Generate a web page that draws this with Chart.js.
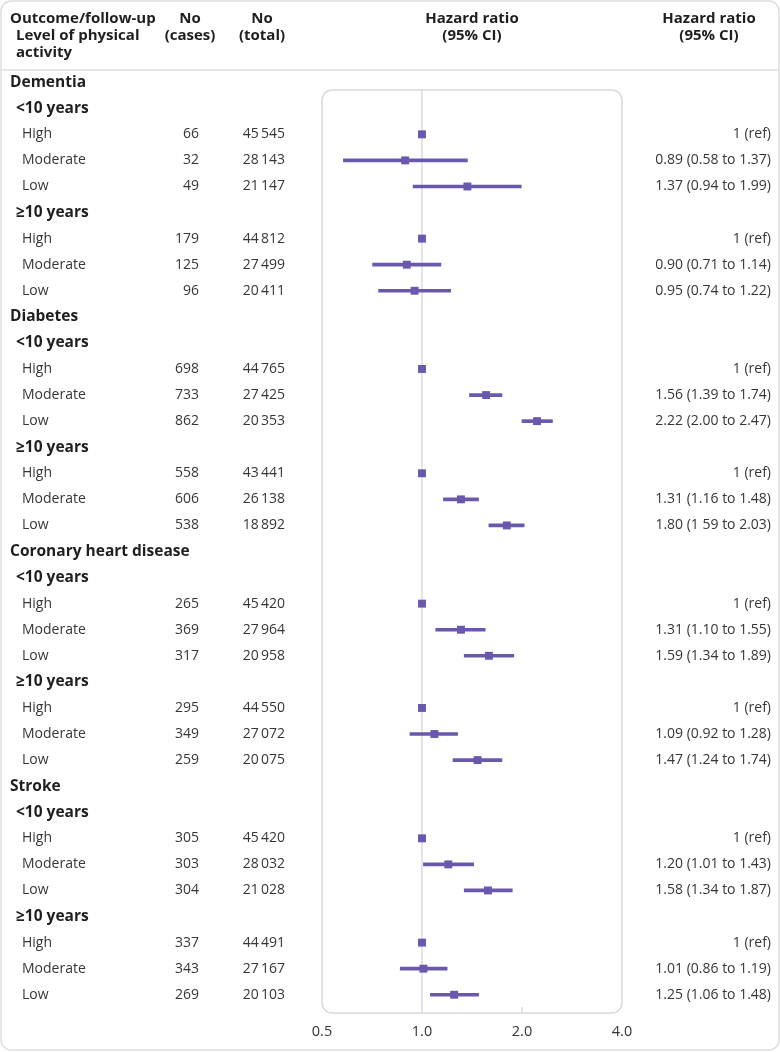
<!DOCTYPE html>
<html>
<head>
<meta charset="utf-8">
<script src="https://cdn.jsdelivr.net/npm/chart.js@4.4.1/dist/chart.umd.min.js"></script>
<style>
html,body{margin:0;padding:0;background:#fff;overflow:hidden;}
#wrap{position:relative;width:780px;height:1052px;}
</style>
</head>
<body>
<div id="wrap"><canvas id="c"></canvas></div>
<script>
// ---- data ----
const outcomes = ['Dementia', 'Diabetes', 'Coronary heart disease', 'Stroke'];
const periods = ['<10 years', '≥10 years'];
const levels = ['High', 'Moderate', 'Low'];
const cases = [66, 32, 49, 179, 125, 96, 698, 733, 862, 558, 606, 538, 265, 369, 317, 295, 349, 259, 305, 303, 304, 337, 343, 269];
const totals = [45545, 28143, 21147, 44812, 27499, 20411, 44765, 27425, 20353, 43441, 26138, 18892, 45420, 27964, 20958, 44550, 27072, 20075, 45420, 28032, 21028, 44491, 27167, 20103];
const hr = [1, 0.89, 1.37, 1, 0.90, 0.95, 1, 1.56, 2.22, 1, 1.31, 1.80, 1, 1.31, 1.59, 1, 1.09, 1.47, 1, 1.20, 1.58, 1, 1.01, 1.25];
const ciLow = [null, 0.58, 0.94, null, 0.71, 0.74, null, 1.39, 2.00, null, 1.16, 1.59, null, 1.10, 1.34, null, 0.92, 1.24, null, 1.01, 1.34, null, 0.86, 1.06];
const ciHigh = [null, 1.37, 1.99, null, 1.14, 1.22, null, 1.74, 2.47, null, 1.48, 2.03, null, 1.55, 1.89, null, 1.28, 1.74, null, 1.43, 1.87, null, 1.19, 1.48];
const hrLabels = ['1 (ref)', '0.89 (0.58 to 1.37)', '1.37 (0.94 to 1.99)', '1 (ref)', '0.90 (0.71 to 1.14)', '0.95 (0.74 to 1.22)',
  '1 (ref)', '1.56 (1.39 to 1.74)', '2.22 (2.00 to 2.47)', '1 (ref)', '1.31 (1.16 to 1.48)', '1.80 (1 59 to 2.03)',
  '1 (ref)', '1.31 (1.10 to 1.55)', '1.59 (1.34 to 1.89)', '1 (ref)', '1.09 (0.92 to 1.28)', '1.47 (1.24 to 1.74)',
  '1 (ref)', '1.20 (1.01 to 1.43)', '1.58 (1.34 to 1.87)', '1 (ref)', '1.01 (0.86 to 1.19)', '1.25 (1.06 to 1.48)'];
const xTicks = [0.5, 1, 2, 4];

// ---- build rows ----
const rows = [];
let k = 0;
outcomes.forEach(o => {
  rows.push({ kind: 0, text: o });
  periods.forEach(p => {
    rows.push({ kind: 1, text: p });
    levels.forEach(l => { rows.push({ kind: 2, text: l, k: k }); k++; });
  });
});

const ciData = [], ptData = [];
rows.forEach((r, i) => {
  if (r.kind !== 2) return;
  ptData.push({ x: hr[r.k], y: i });
  if (ciLow[r.k] !== null) ciData.push({ x: [ciLow[r.k], ciHigh[r.k]], y: i });
});

const fmt = n => n.toString().replace(/\B(?=(\d{3})+(?!\d))/g, '\u2009');

const FONT = '"Open Sans"';
const REG = '14px ' + FONT;
const BOLD = 'bold 15.5px ' + FONT;
const HBOLD = 'bold 15px ' + FONT;
const PURPLE = '#6a58ad';
const TXT = '#363636';
const HEAD = '#1e1e1e';

const decor = {
  id: 'decor',
  beforeDraw(chart) {
    const ctx = chart.ctx, a = chart.chartArea, xs = chart.scales.x;
    ctx.save();
    // card
    ctx.strokeStyle = '#dedee2';
    ctx.lineWidth = 1.5;
    ctx.beginPath();
    ctx.roundRect(1, 1, 778, 1049, 10);
    ctx.stroke();
    // header separator
    ctx.beginPath();
    ctx.moveTo(1, 70); ctx.lineTo(779, 70);
    ctx.stroke();
    // plot box
    ctx.strokeStyle = '#d9d9de';
    ctx.beginPath();
    ctx.roundRect(a.left, a.top, a.right - a.left, a.bottom - a.top, 10);
    ctx.stroke();
    // reference line at 1
    const x1 = xs.getPixelForValue(1);
    ctx.strokeStyle = '#dadae2';
    ctx.beginPath();
    ctx.moveTo(x1, a.top); ctx.lineTo(x1, a.bottom);
    ctx.stroke();
    // small tick at 2
    const x2 = xs.getPixelForValue(2);
    ctx.beginPath();
    ctx.moveTo(x2, a.bottom - 6); ctx.lineTo(x2, a.bottom);
    ctx.stroke();
    ctx.restore();
  },
  afterDraw(chart) {
    const ctx = chart.ctx, ys = chart.scales.y;
    ctx.save();
    ctx.textBaseline = 'middle';
    // headers
    ctx.fillStyle = HEAD;
    ctx.font = HBOLD;
    ctx.textAlign = 'left';
    ctx.fillText('Outcome/follow-up', 10, 19);
    ctx.fillText('Level of physical', 16, 36);
    ctx.fillText('activity', 16, 53);
    ctx.textAlign = 'center';
    ctx.fillText('No', 190, 19);
    ctx.fillText('(cases)', 190, 36);
    ctx.fillText('No', 262, 19);
    ctx.fillText('(total)', 262, 36);
    ctx.fillText('Hazard ratio', 472, 19);
    ctx.fillText('(95% CI)', 472, 36);
    ctx.fillText('Hazard ratio', 709, 19);
    ctx.fillText('(95% CI)', 709, 36);
    // rows
    rows.forEach((r, i) => {
      const y = ys.getPixelForValue(i);
      if (r.kind === 0) {
        ctx.font = BOLD; ctx.fillStyle = HEAD; ctx.textAlign = 'left';
        ctx.fillText(r.text, 10, y);
      } else if (r.kind === 1) {
        ctx.font = BOLD; ctx.fillStyle = HEAD; ctx.textAlign = 'left';
        ctx.fillText(r.text, 16, y);
      } else {
        ctx.font = REG; ctx.fillStyle = TXT; ctx.textAlign = 'left';
        ctx.fillText(r.text, 22, y);
        ctx.textAlign = 'right';
        ctx.fillText(String(cases[r.k]), 199, y);
        ctx.fillText(fmt(totals[r.k]), 285, y);
        ctx.fillText(hrLabels[r.k], 771, y);
      }
    });
    ctx.restore();
  }
};

new Chart(document.getElementById('c'), {
  type: 'bar',
  data: {
    datasets: [
      { type: 'bar', data: ciData, backgroundColor: PURPLE, borderWidth: 0, barThickness: 3, borderSkipped: false, order: 2 },
      { type: 'scatter', data: ptData, backgroundColor: PURPLE, borderWidth: 0, pointStyle: 'rect', pointRadius: 5.6, pointHoverRadius: 5.6, order: 1 }
    ]
  },
  options: {
    indexAxis: 'y',
    responsive: true,
    maintainAspectRatio: false,
    animation: false,
    events: [],
    layout: { padding: { left: 322, right: 158, top: 90, bottom: 0 } },
    plugins: { legend: { display: false }, tooltip: { enabled: false } },
    scales: {
      x: {
        type: 'logarithmic', min: 0.5, max: 4,
        grid: { display: false }, border: { display: false },
        afterBuildTicks: s => { s.ticks = xTicks.map(v => ({ value: v })); },
        afterFit: s => { s.height = 39; },
        ticks: { padding: 2, color: TXT, font: { family: 'Open Sans', size: 14.5 }, maxRotation: 0, autoSkip: false,
          callback: v => Number(v).toFixed(1) }
      },
      y: { type: 'linear', reverse: true, min: 0.3, max: 35.7, offset: false, display: false }
    }
  },
  plugins: [decor]
});
</script>
</body>
</html>
